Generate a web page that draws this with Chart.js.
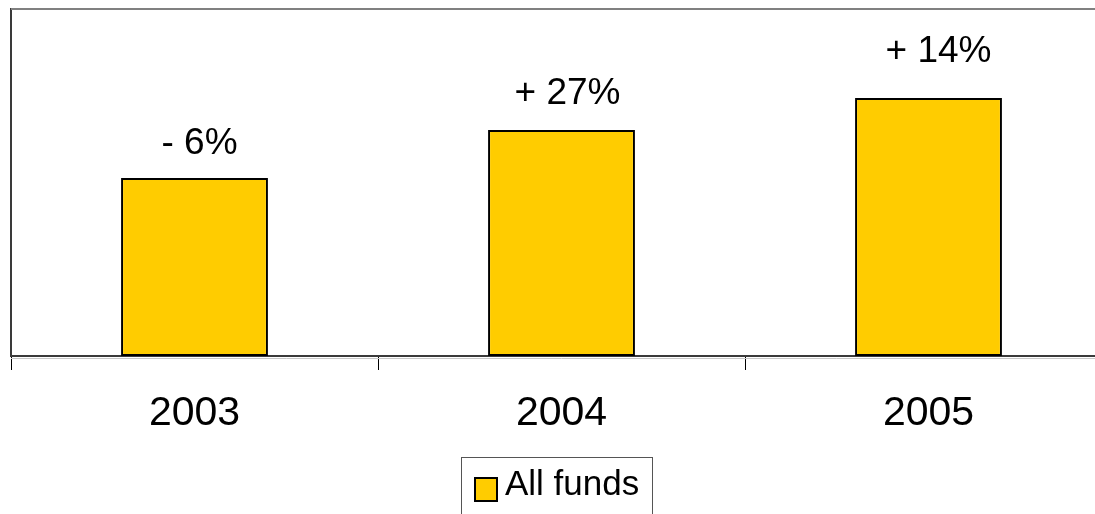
<!DOCTYPE html>
<html>
<head>
<meta charset="utf-8">
<script src="https://cdn.jsdelivr.net/npm/chart.js@4/dist/chart.umd.min.js"></script>
<style>
  html, body { margin: 0; padding: 0; background: #fff; }
  #wrap { width: 1095px; height: 514px; overflow: hidden; position: relative; }
  #box { width: 1115px; height: 514px; }
</style>
</head>
<body>
<div id="wrap"><div id="box"><canvas id="fundsChart"></canvas></div></div>
<script>
// Fund volume per year (index, 2003 = 100) and year-on-year change
const years = ["2003", "2004", "2005"];
const fundVolume = [100, 127, 145];
const growthLabels = ["- 6%", "+ 27%", "+ 14%"];
const seriesName = "All funds";

const FONT = "'Liberation Sans', Arial, sans-serif";

// growth text above each bar
const growthPlugin = {
    id: 'growthText',
    afterDatasetsDraw(chart) {
        const ctx = chart.ctx;
        const meta = chart.getDatasetMeta(0);
        const gaps = [24, 26, 36];     // distance from bar top to text baseline
        const shifts = [5, 6, 10];     // small horizontal nudge
        ctx.save();
        ctx.font = "37px " + FONT;
        ctx.fillStyle = "#000";
        ctx.textAlign = "center";
        ctx.textBaseline = "alphabetic";
        meta.data.forEach((bar, i) => {
            ctx.fillText(growthLabels[i], bar.x + shifts[i], bar.y - gaps[i]);
        });
        ctx.restore();
    }
};

// plot frame on top and the framed legend below the axis
const framePlugin = {
    id: 'frame',
    beforeDatasetsDraw(chart) {
        const { ctx, chartArea } = chart;
        ctx.save();
        ctx.strokeStyle = "#808080";
        ctx.lineWidth = 2;
        ctx.beginPath();
        ctx.moveTo(chartArea.left, chartArea.top);
        ctx.lineTo(chartArea.right, chartArea.top);
        ctx.stroke();
        ctx.strokeStyle = "#c8c8c8";
        ctx.lineWidth = 1;
        ctx.beginPath();
        ctx.moveTo(chartArea.left, chartArea.bottom + 2.5);
        ctx.lineTo(chartArea.right, chartArea.bottom + 2.5);
        ctx.stroke();
        ctx.restore();
    },
    afterDraw(chart) {
        const ctx = chart.ctx;
        const ds = chart.data.datasets[0];
        ctx.save();
        ctx.strokeStyle = "#555";
        ctx.lineWidth = 1;
        ctx.strokeRect(461.5, 457.5, 191, 70);
        ctx.fillStyle = ds.backgroundColor;
        ctx.fillRect(475, 478, 22, 23);
        ctx.strokeStyle = "#000";
        ctx.lineWidth = 2;
        ctx.strokeRect(475, 478, 22, 23);
        ctx.fillStyle = "#000";
        ctx.font = "35px " + FONT;
        ctx.textBaseline = "alphabetic";
        ctx.fillText(ds.label, 505, 495);
        ctx.restore();
    }
};

new Chart(document.getElementById('fundsChart'), {
    type: 'bar',
    data: {
        labels: years,
        datasets: [{
            label: seriesName,
            data: fundVolume,
            backgroundColor: "#FFCC00",
            borderColor: "#000",
            borderWidth: 2,
            borderSkipped: false,
            barPercentage: 0.4,
            categoryPercentage: 1.0
        }]
    },
    options: {
        responsive: true,
        maintainAspectRatio: false,
        animation: false,
        layout: { padding: { left: 11, top: 9, right: 3, bottom: 0 } },
        plugins: {
            legend: { display: false },
            tooltip: { enabled: false }
        },
        scales: {
            x: {
                grid: {
                    offset: true,
                    drawOnChartArea: false,
                    drawTicks: true,
                    tickLength: 14,
                    color: "#000",
                    lineWidth: 1
                },
                border: { color: "#3a3a3a", width: 2 },
                ticks: {
                    color: "#000",
                    font: { family: FONT, size: 41 },
                    padding: 19,
                    maxRotation: 0
                },
                afterFit(scale) { scale.height = 158; }
            },
            y: {
                min: 0,
                max: 195,
                grid: { display: false, drawTicks: false },
                border: { color: "#3a3a3a", width: 2 },
                ticks: { display: false },
                afterFit(scale) { scale.width = 0; }
            }
        }
    },
    plugins: [growthPlugin, framePlugin]
});
</script>
</body>
</html>
